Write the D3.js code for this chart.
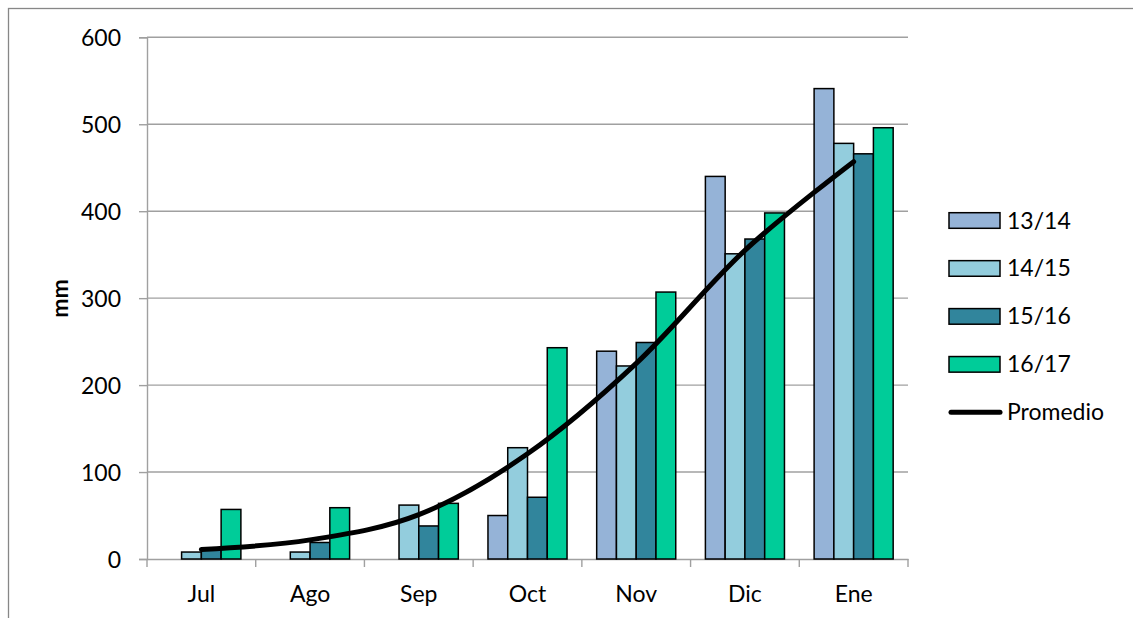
<!DOCTYPE html>
<html>
<head>
<meta charset="UTF-8">
<title>mm</title>
<script type="text/javascript" src="https://cdn.jsdelivr.net/npm/d3@7/dist/d3.min.js"></script>
<style type="text/css">
body{margin:0;background:#fff;}
text{font-family:Lato,"Liberation Sans",sans-serif;fill:#000;}
</style>
</head>
<body>
<script type="text/javascript">
var width=1133;
var height=618;

// datos
var months=["Jul","Ago","Sep","Oct","Nov","Dic","Ene"];
var seriesNames=["13/14","14/15","15/16","16/17"];
var s1314=[null,null,null,50,239,440,541];
var s1415=[8,8,62,128,222,351,478];
var s1516=[11,19,38,71,249,368,466];
var s1617=[57,59,64,243,307,398,496];
var promedio=[11,22,51,121,225,355,457];
var yTicks=[0,100,200,300,400,500,600];
var colors=["#95b3d7","#93cddd","#31859c","#00cc99"];

var seriesValues=[s1314,s1415,s1516,s1617];
var fontSize="23px";

var svg=d3.select("body")
		  .append("svg")
		  .attr("width",width)
		  .attr("height",height);

// marco exterior (recortado)
svg.append("rect")
   .attr("x",8.5)
   .attr("y",8.5)
   .attr("width",width+20)
   .attr("height",height+20)
   .attr("fill","none")
   .attr("stroke","#878787")
   .attr("stroke-width",1.3);

var plotL=147,plotR=908,plotT=37.3,plotB=559;

var xScale=d3.scaleBand()
			 .domain(months)
			 .range([plotL,plotR]);
var x1=d3.scaleBand()
		 .domain(seriesNames)
		 .range([0,xScale.bandwidth()])
		 .paddingOuter(0.75);
var yScale=d3.scaleLinear()
			 .domain([0,600])
			 .range([plotB,plotT]);

// lineas de grilla
svg.append("g").selectAll("line")
   .data(yTicks.slice(1))
   .enter()
   .append("line")
   .attr("x1",plotL)
   .attr("x2",plotR)
   .attr("y1",function(d){return yScale(d);})
   .attr("y2",function(d){return yScale(d);})
   .attr("stroke","#a0a0a0")
   .attr("stroke-width",1.4);

// eje y
var yAxis=svg.append("g")
			 .attr("transform","translate("+plotL+",0)")
			 .call(d3.axisLeft(yScale).tickValues(yTicks).tickSize(8));
yAxis.select(".domain").attr("stroke","#a0a0a0").attr("stroke-width",1.4);
yAxis.selectAll(".tick line").attr("stroke","#a0a0a0").attr("stroke-width",1.4);
yAxis.selectAll(".tick text")
	 .attr("font-family","Lato")
	 .attr("font-size",fontSize)
	 .attr("fill","#000")
	 .attr("dy","0.36em")
	 .attr("x",-26);

// eje x
var xAxis=svg.append("g")
			 .attr("transform","translate(0,"+plotB+")")
			 .call(d3.axisBottom(xScale).tickSize(0).tickPadding(0));
xAxis.select(".domain").attr("stroke","#a0a0a0").attr("stroke-width",1.4);
xAxis.selectAll(".tick text")
	 .attr("font-family","Lato")
	 .attr("font-size",fontSize)
	 .attr("fill","#000")
	 .attr("y",43)
	 .attr("dy",0);
// marcas entre categorias
xAxis.append("g").selectAll("line")
	 .data(months.concat(["end"]))
	 .enter()
	 .append("line")
	 .attr("x1",function(d,i){return plotL+i*xScale.step();})
	 .attr("x2",function(d,i){return plotL+i*xScale.step();})
	 .attr("y1",0)
	 .attr("y2",8)
	 .attr("stroke","#a0a0a0")
	 .attr("stroke-width",1.4);

// titulo eje y
svg.append("text")
   .attr("transform","translate(68,298.5) rotate(-90)")
   .attr("text-anchor","middle")
   .attr("font-size",fontSize)
   .attr("font-weight","bold")
   .text("mm");

// barras
var groups=svg.append("g").selectAll("g")
			  .data(seriesValues)
			  .enter()
			  .append("g")
			  .attr("fill",function(d,i){return colors[i];});
groups.each(function(vals,si){
	d3.select(this).selectAll("rect")
	  .data(vals.map(function(v,mi){return {m:months[mi],v:v};}).filter(function(d){return d.v!=null;}))
	  .enter()
	  .append("rect")
	  .attr("x",function(d){return xScale(d.m)+x1(seriesNames[si]);})
	  .attr("width",x1.bandwidth())
	  .attr("y",function(d){return yScale(d.v);})
	  .attr("height",function(d){return yScale(0)-yScale(d.v);})
	  .attr("stroke","#000")
	  .attr("stroke-width",1.5);
});

// promedio
var line=d3.line()
		   .x(function(d,i){return xScale(months[i])+xScale.bandwidth()/2;})
		   .y(function(d){return yScale(d);})
		   .curve(d3.curveCatmullRom.alpha(0));
svg.append("path")
   .datum(promedio)
   .attr("d",line)
   .attr("fill","none")
   .attr("stroke","#000")
   .attr("stroke-width",5)
   .attr("stroke-linecap","round");

// leyenda
var legend=svg.append("g").attr("transform","translate(949,0)");
var rowY=d3.scalePoint().domain(seriesNames.concat(["Promedio"])).range([220.5,412.3]);
legend.selectAll("rect")
	  .data(seriesNames)
	  .enter()
	  .append("rect")
	  .attr("x",0)
	  .attr("y",function(d){return rowY(d)-7.8;})
	  .attr("width",51)
	  .attr("height",15.6)
	  .attr("fill",function(d,i){return colors[i];})
	  .attr("stroke","#000")
	  .attr("stroke-width",1.5);
legend.append("line")
	  .attr("x1",2)
	  .attr("x2",51)
	  .attr("y1",rowY("Promedio"))
	  .attr("y2",rowY("Promedio"))
	  .attr("stroke","#000")
	  .attr("stroke-width",5)
	  .attr("stroke-linecap","round");
legend.selectAll("text")
	  .data(seriesNames.concat(["Promedio"]))
	  .enter()
	  .append("text")
	  .attr("x",58)
	  .attr("y",function(d){return rowY(d)+8;})
	  .attr("font-size",fontSize)
	  .text(function(d){return d;});
</script>
</body>
</html>
